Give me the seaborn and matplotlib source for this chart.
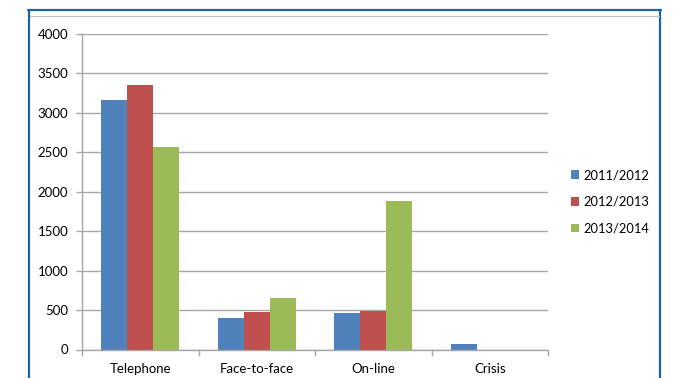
import matplotlib
matplotlib.use("Agg")
import matplotlib.pyplot as plt
from matplotlib.lines import Line2D
from matplotlib.patches import Patch
import seaborn as sns
import pandas as pd

# Service contacts by channel and year
categories = ["Telephone", "Face-to-face", "On-line", "Crisis"]
years = ["2011/2012", "2012/2013", "2013/2014"]
values_2011 = [3155, 403, 462, 72]
values_2012 = [3350, 480, 492, 0]
values_2013 = [2568, 658, 1885, 0]
y_ticks = [0, 500, 1000, 1500, 2000, 2500, 3000, 3500, 4000]
colors = ["#4F81BD", "#C0504D", "#9BBB59"]

df = pd.DataFrame({
    "category": categories * 3,
    "year": [years[0]] * 4 + [years[1]] * 4 + [years[2]] * 4,
    "value": values_2011 + values_2012 + values_2013,
})

sns.set_theme(style="white")
plt.rcParams["font.family"] = ["Lato", "DejaVu Sans"]

W, H = 675, 378
fig = plt.figure(figsize=(W / 100, H / 100), dpi=100)
fig.patch.set_facecolor("white")

# plot area in pixel coordinates
x0, x1, ytop, ybot = 82, 548, 33.5, 349.5
ax = fig.add_axes([x0 / W, 1 - ybot / H, (x1 - x0) / W, (ybot - ytop) / H])

sns.barplot(data=df, x="category", y="value", hue="year", order=categories,
            hue_order=years, palette=colors, width=0.667, linewidth=0,
            saturation=1, ax=ax, legend=False)

ax.set_xlim(-0.5, 3.5)
ax.set_ylim(0, 4000)
ax.set_yticks(y_ticks)
ax.set_yticklabels([str(v) for v in y_ticks])
ax.set_xlabel("")
ax.set_ylabel("")

grid_c = "#A6A6A6"
text_c = "#000000"
ax.yaxis.grid(True, color=grid_c, linewidth=1.0)
ax.set_axisbelow(True)
for s in ["top", "right"]:
    ax.spines[s].set_visible(False)
for s in ["left", "bottom"]:
    ax.spines[s].set_color(grid_c)
    ax.spines[s].set_linewidth(1.0)

# boundaries between categories carry the tick marks, names sit centred
ax.set_xticks([-0.5, 0.5, 1.5, 2.5, 3.5])
ax.set_xticklabels([])
ax.set_xticks([0, 1, 2, 3], minor=True)
ax.set_xticklabels(categories, minor=True)
ax.tick_params(axis="x", which="major", direction="out", length=4,
               color=grid_c, width=1, bottom=True)
ax.tick_params(axis="x", which="minor", length=0, pad=10, labelsize=9.5,
               labelcolor=text_c)
ax.tick_params(axis="y", direction="out", length=4, color=grid_c, width=1,
               left=True, pad=6, labelsize=9.5, labelcolor=text_c)

handles = [Patch(facecolor=c, edgecolor="none") for c in colors]
fig.legend(handles, years, loc="center left",
           bbox_to_anchor=(571 / W, 1 - 202 / H), frameon=False,
           fontsize=9.3, handlelength=0.6, handleheight=0.6,
           handletextpad=0.35, labelspacing=1.15, borderpad=0,
           borderaxespad=0, labelcolor=text_c)

# outer chart frame
fc = "#1F65A3"
ft = fig.transFigure
fig.add_artist(Line2D([29 / W, 29 / W], [1 - 9.7 / H, -0.05], color=fc,
                      linewidth=1.6, transform=ft))
fig.add_artist(Line2D([28.2 / W, 660.8 / W], [1 - 9.7 / H, 1 - 9.7 / H],
                      color=fc, linewidth=1.6, transform=ft))
fig.add_artist(Line2D([660 / W, 660 / W], [1 - 9.7 / H, -0.05], color=fc,
                      linewidth=1.6, transform=ft))
fig.add_artist(Line2D([30 / W, 659 / W], [1 - 16.3 / H, 1 - 16.3 / H],
                      color="#BFBFBF", linewidth=0.8, transform=ft))

fig.savefig("out.png", dpi=100, facecolor="white")
